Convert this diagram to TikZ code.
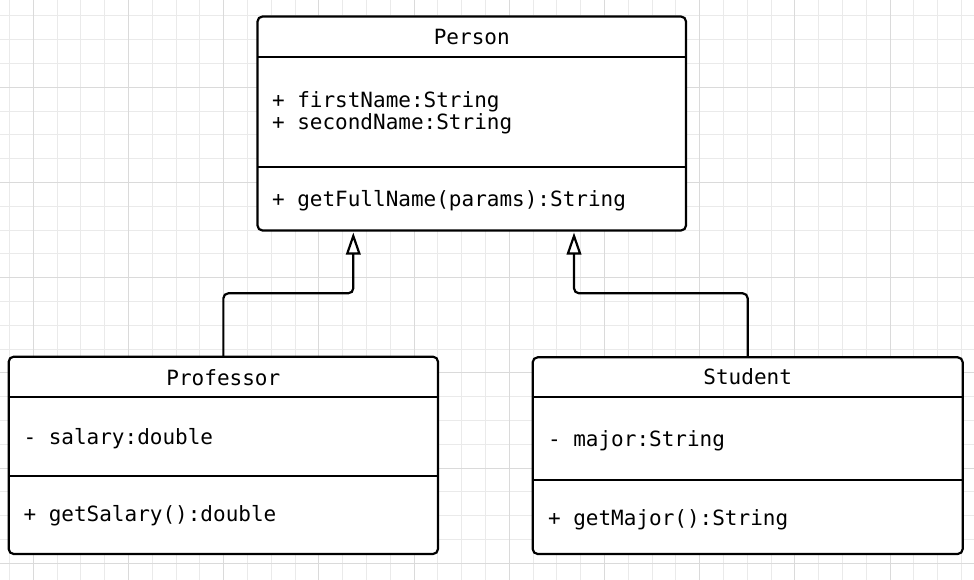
\documentclass[tikz,border=0pt]{standalone}
\usepackage{fontspec}
\usetikzlibrary{arrows.meta,calc}
\newfontfamily\umlfont{DejaVu Sans Mono}
\definecolor{gridminor}{RGB}{234,234,234}
\definecolor{gridmajor}{RGB}{218,218,218}
\tikzset{
  classbox/.style={draw, line width=2.2pt, rounded corners=5pt, fill=white, inner sep=0pt, outer sep=0pt},
  sepline/.style={line width=2.2pt},
  umltxt/.style={font=\umlfont\fontsize{21}{22}\selectfont, inner sep=0pt, outer sep=0pt},
  conn/.style={line width=2.2pt, rounded corners=5pt, -{Triangle[open, length=22pt, width=14.5pt]}},
  minorline/.style={gridminor, line width=1pt},
  majorline/.style={gridmajor, line width=1pt},
}
\begin{document}
\begin{tikzpicture}[x=1pt, y=-1pt]
\useasboundingbox (0,0) rectangle (974,580);
\fill[white] (0,0) rectangle (974,580);
% grid
\foreach \k in {-1,...,39} \draw[minorline] ({33.3+23.8*\k},0) -- ({33.3+23.8*\k},580);
\foreach \k in {-3,...,21} \draw[minorline] (0,{87.3+23.8*\k}) -- (974,{87.3+23.8*\k});
\foreach \k in {0,4,...,36} \draw[majorline] ({33.3+23.8*\k},0) -- ({33.3+23.8*\k},580);
\foreach \k in {0,4,...,20} \draw[majorline] (0,{87.3+23.8*\k}) -- (974,{87.3+23.8*\k});

% class boxes
\node[classbox, minimum width=428.5pt, minimum height=214pt] (person) at (471.75,123.5) {};
\node[classbox, minimum width=429.3pt, minimum height=197.3pt] (professor) at (223.35,455.35) {};
\node[classbox, minimum width=430pt, minimum height=196.7pt] (student) at (747.7,455.65) {};

% separators
\draw[sepline] ($(person.north west)+(0,40.5)$) -- ($(person.north east)+(0,40.5)$);
\draw[sepline] ($(person.north west)+(0,150.8)$) -- ($(person.north east)+(0,150.8)$);
\draw[sepline] ($(professor.north west)+(0,40.6)$) -- ($(professor.north east)+(0,40.6)$);
\draw[sepline] ($(professor.north west)+(0,119.3)$) -- ($(professor.north east)+(0,119.3)$);
\draw[sepline] ($(student.north west)+(0,40)$) -- ($(student.north east)+(0,40)$);
\draw[sepline] ($(student.north west)+(0,122.7)$) -- ($(student.north east)+(0,122.7)$);

% texts
\node[umltxt, anchor=base] (pname) at (471.75,45) {Person};
\node[umltxt, anchor=base west] (pattr1) at (272,108) {+ firstName:String};
\node[umltxt, anchor=base west] (pattr2) at (272,130) {+ secondName:String};
\node[umltxt, anchor=base west] (pmeth) at (272,206.5) {+ getFullName(params):String};

\node[umltxt, anchor=base] (profname) at (223.35,385) {Professor};
\node[umltxt, anchor=base west] (profattr) at (23.5,444) {- salary:double};
\node[umltxt, anchor=base west] (profmeth) at (23.5,521.7) {+ getSalary():double};

\node[umltxt, anchor=base] (studname) at (747.7,384.3) {Student};
\node[umltxt, anchor=base west] (studattr) at (548,446) {- major:String};
\node[umltxt, anchor=base west] (studmeth) at (548,525.7) {+ getMajor():String};

% generalization connectors
\draw[conn] (professor.north) |- ($(person.south west)+(95.8,62.8)$) -- ($(person.south west)+(95.8,2)$);
\draw[conn] (student.north) |- ($(person.south west)+(316.5,62.8)$) -- ($(person.south west)+(316.5,2)$);
\end{tikzpicture}
\end{document}
